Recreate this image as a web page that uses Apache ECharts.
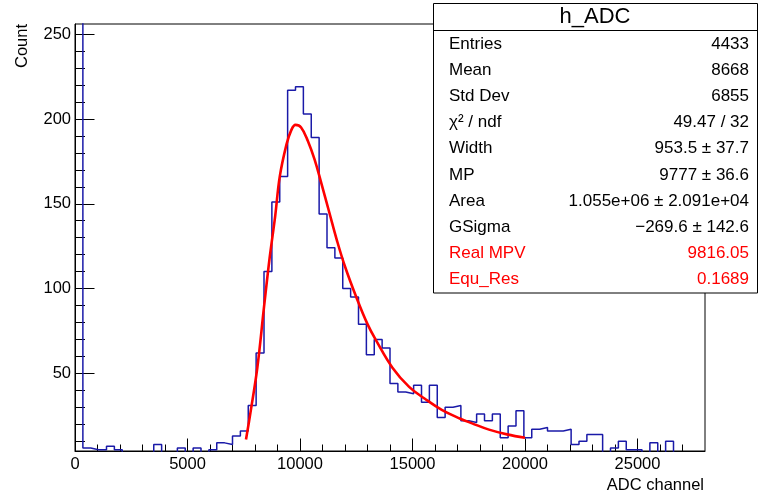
<!DOCTYPE html>
<html>
<head>
<meta charset="utf-8">
<script src="https://cdn.jsdelivr.net/npm/echarts@6/dist/echarts.min.js"></script>
<style>
  html, body { margin: 0; padding: 0; background: #fff; }
  #chart { width: 758px; height: 499px; }
</style>
</head>
<body>
<div id="chart"></div>
<script>
// h_ADC : 80 bins of 350 ADC channels, 0 - 28000
const binWidth = 350
const counts = [
  320, 6, 5, 5, 7, 5, 0, 0, 0, 0,
  8, 0, 0, 6, 0, 6, 0, 5, 9, 8,
  13, 16, 31, 62, 110, 151, 166, 217, 219, 203,
  189, 144, 124, 118, 100, 95, 79, 61, 70, 65,
  44, 39, 38, 43, 33, 43, 24, 30, 31, 22,
  21, 26, 22, 26, 12, 19, 28, 12, 17, 18,
  16, 16, 17, 8, 10, 14, 14, 2, 6, 10,
  5, 5, 0, 9, 0, 10, 0, 0, 0, 0
]

// fitted curve (Landau x Gauss)
const fitX = [7600, 7800, 8100, 8400, 8650, 8900, 9100, 9400, 9600, 9800,
  10050, 10350, 10650, 10950, 11300, 11650, 12000, 12500, 13000,
  13400, 14100, 14850, 15550, 16300, 17100, 17650, 18400, 19200, 20000]
const fitY = [11, 27, 53, 89, 118, 143, 166, 185, 193, 196.5,
  195, 187, 176, 162, 145, 128, 113, 95, 79,
  69, 53.5, 42, 35, 28.5, 23.4, 20.5, 16.8, 14, 12]

const xMajor = [0, 5000, 10000, 15000, 20000, 25000]
const xMinor = [1000, 2000, 3000, 4000, 6000, 7000, 8000, 9000, 11000, 12000, 13000, 14000,
  16000, 17000, 18000, 19000, 21000, 22000, 23000, 24000, 26000, 27000]
const yMajor = [50, 100, 150, 200, 250]
const yMinor = [10, 20, 30, 40, 60, 70, 80, 90, 110, 120, 130, 140,
  160, 170, 180, 190, 210, 220, 230, 240]

const statNames = ['Entries', 'Mean', 'Std Dev', 'χ² / ndf', 'Width', 'MP', 'Area', 'GSigma', 'Real MPV', 'Equ_Res']
const statValues = ['4433', '8668', '6855', '49.47 / 32', '953.5 ± 37.7', '9777 ± 36.6',
  '1.055e+06 ± 2.091e+04', '−269.6 ± 142.6', '9816.05', '0.1689']
const statColors = ['#000', '#000', '#000', '#000', '#000', '#000', '#000', '#000', '#ff0000', '#ff0000']

const font = 'Liberation Sans'

let histData = counts.map((c, i) => [i * binWidth, c])
histData.push([counts.length * binWidth, counts[counts.length - 1]])
let fitData = fitX.map((x, i) => [x, fitY[i]])

let myChart = echarts.init(document.getElementById('chart'))

// stats box
let stats = [
  {
    type: 'rect',
    shape: { x: 433.5, y: 3.5, width: 324, height: 289.5 },
    style: { fill: '#fff', stroke: '#000', lineWidth: 1 }
  },
  {
    type: 'line',
    shape: { x1: 433.5, y1: 30.5, x2: 757.5, y2: 30.5 },
    style: { stroke: '#000', lineWidth: 1 }
  },
  {
    type: 'text',
    x: 595, y: 17,
    style: { text: 'h_ADC', fill: '#000', font: '22px ' + font, align: 'center', verticalAlign: 'middle', textAlign: 'center', textVerticalAlign: 'middle' }
  }
]
statNames.forEach((name, i) => {
  let y = 44 + i * 26.2
  stats.push({
    type: 'text', x: 449, y: y,
    style: { text: name, fill: statColors[i], font: '17px ' + font, align: 'left', verticalAlign: 'middle', textAlign: 'left', textVerticalAlign: 'middle' }
  })
  stats.push({
    type: 'text', x: 749, y: y,
    style: { text: statValues[i], fill: statColors[i], font: '17px ' + font, align: 'right', verticalAlign: 'middle', textAlign: 'right', textVerticalAlign: 'middle' }
  })
})

let option = {
  animation: false,
  backgroundColor: '#fff',
  grid: {
    left: 75,
    top: 24,
    right: 53,
    bottom: 48,
    show: true,
    borderColor: '#000',
    borderWidth: 1,
    backgroundColor: 'transparent'
  },
  xAxis: [
    {
      type: 'value',
      min: 0,
      max: 28000,
      position: 'bottom',
      axisLine: { show: true, lineStyle: { color: '#000', width: 1 } },
      axisTick: { show: true, inside: true, length: 12.5, customValues: xMajor, lineStyle: { color: '#000' } },
      axisLabel: {
        customValues: xMajor,
        formatter: v => String(v),
        color: '#000',
        fontSize: 16.5,
        fontFamily: font,
        margin: 5
      },
      splitLine: { show: false }
    },
    {
      type: 'value',
      min: 0,
      max: 28000,
      position: 'bottom',
      axisLine: { show: false },
      axisTick: { show: true, inside: true, length: 6.5, customValues: xMinor, lineStyle: { color: '#000' } },
      axisLabel: { show: false },
      splitLine: { show: false }
    }
  ],
  yAxis: [
    {
      type: 'value',
      min: 4.2,
      max: 256,
      position: 'left',
      axisLine: { show: true, lineStyle: { color: '#000', width: 1 } },
      axisTick: { show: true, inside: true, length: 19.5, customValues: yMajor, lineStyle: { color: '#000' } },
      axisLabel: {
        customValues: yMajor,
        formatter: v => String(v),
        color: '#000',
        fontSize: 16.5,
        fontFamily: font,
        margin: 4
      },
      splitLine: { show: false }
    },
    {
      type: 'value',
      min: 4.2,
      max: 256,
      position: 'left',
      axisLine: { show: false },
      axisTick: { show: true, inside: true, length: 10, customValues: yMinor, lineStyle: { color: '#000' } },
      axisLabel: { show: false },
      splitLine: { show: false }
    }
  ],
  series: [
    {
      name: 'h_ADC',
      type: 'line',
      step: 'end',
      showSymbol: false,
      symbol: 'none',
      clip: true,
      lineStyle: { color: '#1a1aa8', width: 1.5 },
      data: histData
    },
    {
      name: 'fit',
      type: 'line',
      smooth: 0.4,
      showSymbol: false,
      symbol: 'none',
      clip: true,
      lineStyle: { color: '#ff0000', width: 2.6 },
      data: fitData
    }
  ],
  graphic: [
    {
      type: 'text',
      x: 22, y: 24,
      rotation: Math.PI / 2,
      style: { text: 'Count', fill: '#000', font: '16.5px ' + font, align: 'right', verticalAlign: 'middle', textAlign: 'right', textVerticalAlign: 'middle' }
    },
    {
      type: 'text',
      x: 704, y: 477,
      style: { text: 'ADC channel', fill: '#000', font: '16.5px ' + font, align: 'right', verticalAlign: 'top', textAlign: 'right', textVerticalAlign: 'top' }
    },
    {
      type: 'group',
      z: 100,
      children: stats
    }
  ]
}
myChart.setOption(option, true)
</script>
</body>
</html>
